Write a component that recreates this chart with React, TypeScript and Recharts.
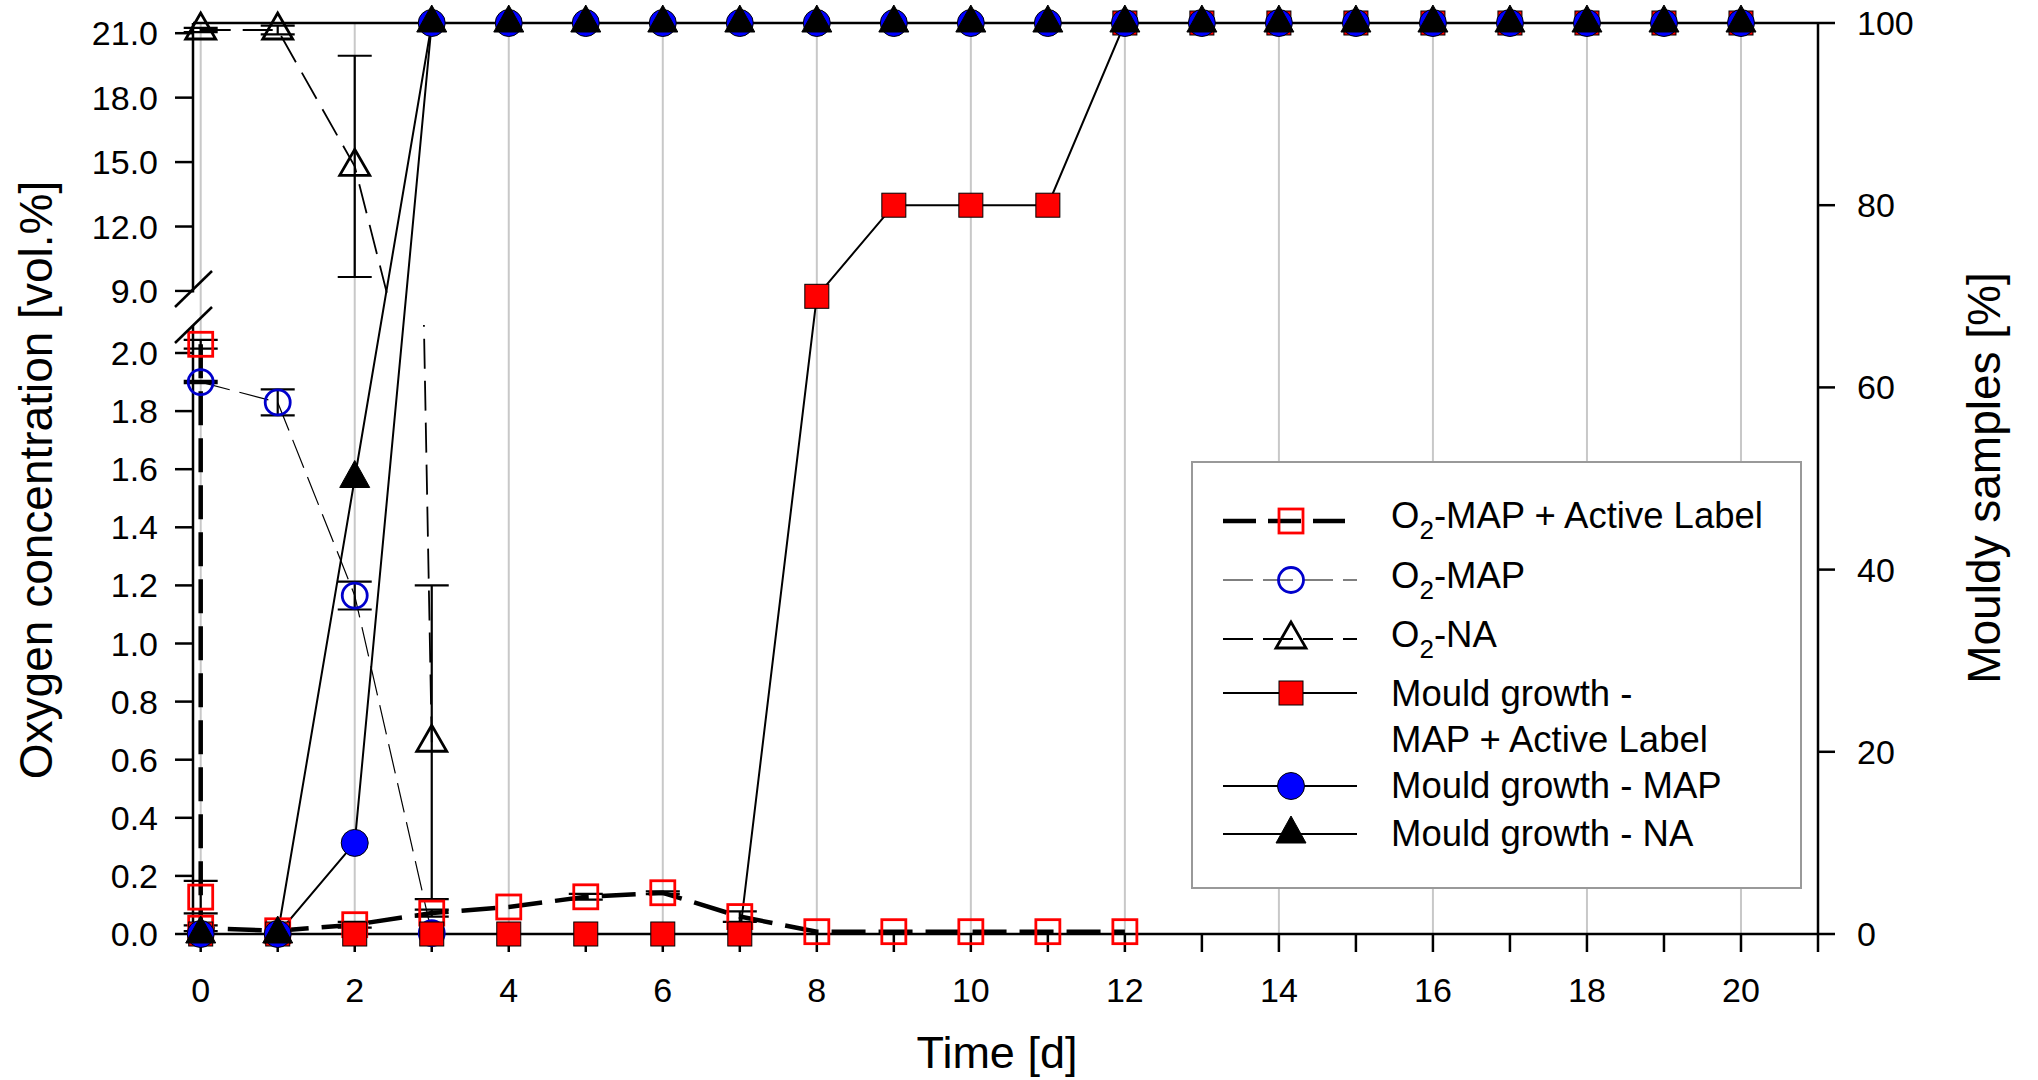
import React from 'react';
import { ComposedChart, Line, Scatter, XAxis, YAxis, ReferenceLine, ErrorBar } from 'recharts';

const FONT = "'Liberation Sans', Arial, Helvetica, sans-serif";
const W = 2038;
const H = 1080;

// time axis [d]
const xTicks = [0, 1, 2, 3, 4, 5, 6, 7, 8, 9, 10, 11, 12, 13, 14, 15, 16, 17, 18, 19, 20, 21];
const gridDays = [0, 2, 4, 6, 8, 10, 12, 14, 16, 18, 20];

// mould growth, % of samples (right axis), days 0..20
const mouldDays = [0, 1, 2, 3, 4, 5, 6, 7, 8, 9, 10, 11, 12, 13, 14, 15, 16, 17, 18, 19, 20];
const mouldMapAl = [0, 0, 0, 0, 0, 0, 0, 0, 70, 80, 80, 80, 100, 100, 100, 100, 100, 100, 100, 100, 100];
const mouldMap = [0, 0, 10, 100, 100, 100, 100, 100, 100, 100, 100, 100, 100, 100, 100, 100, 100, 100, 100, 100, 100];
const mouldNa = [0, 0, 50, 100, 100, 100, 100, 100, 100, 100, 100, 100, 100, 100, 100, 100, 100, 100, 100, 100, 100];

// oxygen concentration [vol.%] (left, broken axis) — day 0 was measured three times for MAP + label
const o2MapAlDays = [0, 0, 0, 1, 2, 3, 4, 5, 6, 7, 8, 9, 10, 11, 12];
const o2MapAl = [2.03, 0.127, 0.02, 0.011, 0.032, 0.072, 0.093, 0.128, 0.142, 0.06, 0.008, 0.008, 0.008, 0.008, 0.008];
const o2MapAlErr = [0.015, 0.056, 0.01, 0, 0.01, 0.012, 0, 0.01, 0.005, 0.018, 0, 0, 0, 0, 0];

const o2MapDays = [0, 1, 2, 3];
const o2Map = [1.9, 1.83, 1.165, 0.003];
const o2MapErr = [0.004, 0.045, 0.048, 0];

const o2NaDays = [0, 1, 2, 3];
const o2Na = [21.15, 21.15, 14.8, 0.66];
const o2NaErr = [0.1, 0.2, 5.15, 0.54];

const lowTicks = [0, 0.2, 0.4, 0.6, 0.8, 1.0, 1.2, 1.4, 1.6, 1.8, 2.0];
const highTicks = [9, 12, 15, 18, 21];
const pctTicks = [0, 20, 40, 60, 80, 100];

const rows = (days: number[], vals: number[], errs?: number[]) =>
  days.map((day, i) => ({ day, v: vals[i], err: errs ? errs[i] : undefined }));

const mouldMapAlRows = rows(mouldDays, mouldMapAl);
const mouldMapRows = rows(mouldDays, mouldMap);
const mouldNaRows = rows(mouldDays, mouldNa);
const o2MapAlRows = rows(o2MapAlDays, o2MapAl, o2MapAlErr);
const o2MapRows = rows(o2MapDays, o2Map, o2MapErr);
const o2NaRows = rows(o2NaDays, o2Na, o2NaErr);

// plot box shared by every layer
const PLOT_LEFT = 193;
const PLOT_TOP = 23;
const PLOT_BOTTOM = 934;
const GAP_RIGHT = W - 1818;
const GAP_BOTTOM = H - PLOT_BOTTOM;
const X_DOMAIN: [number, number] = [-0.1, 21];

// broken left axis: lower part 0..2.1, upper part 9..21.5
const LOW_MAX = 22;
const LOW_PX = 290.5; // px per vol.%
const LOW_PLOT_H = LOW_MAX * LOW_PX;
const LOW_CUT = 325; // lower section starts here
const HIGH_DOMAIN: [number, number] = [-20.937, 21.475];
const HIGH_CUT = 292.5; // upper section ends here

const AX = { stroke: '#000', strokeWidth: 2.5 };
const TICK = { fill: '#000', fontSize: 34, fontFamily: FONT };
const RED = '#ff0000';
const BLUE = '#0000ff';
const DARK_BLUE = '#0000cc';

type P = { cx: number; cy: number };
const OpenSquare = ({ cx, cy }: P) => (
  <rect x={cx - 12} y={cy - 12} width={24} height={24} fill="none" stroke={RED} strokeWidth={2.8} />
);
const OpenCircle = ({ cx, cy }: P) => (
  <circle cx={cx} cy={cy} r={12.5} fill="none" stroke={DARK_BLUE} strokeWidth={2.8} />
);
const OpenTriangle = ({ cx, cy }: P) => (
  <polygon points={`${cx},${cy - 17} ${cx - 15},${cy + 9} ${cx + 15},${cy + 9}`} fill="none" stroke="#000" strokeWidth={2.8} />
);
const FilledSquare = ({ cx, cy }: P) => (
  <rect x={cx - 12} y={cy - 12} width={24} height={24} fill={RED} stroke="#000" strokeWidth={1} />
);
const FilledCircle = ({ cx, cy }: P) => (
  <circle cx={cx} cy={cy} r={13.5} fill={BLUE} stroke="#000" strokeWidth={1} />
);
const FilledTriangle = ({ cx, cy }: P) => (
  <polygon points={`${cx},${cy - 18} ${cx - 15},${cy + 9} ${cx + 15},${cy + 9}`} fill="#000" stroke="#000" strokeWidth={1} />
);

const dotOf = (Shape: (p: P) => React.ReactElement) => (p: any) =>
  p.cx == null || p.cy == null ? <g key={p.index} /> : <Shape key={p.index} cx={p.cx} cy={p.cy} />;

const fmt1 = (v: number) => v.toFixed(1);

function ErrBars() {
  return <ErrorBar dataKey="err" width={17} stroke="#000" strokeWidth={2.2} direction="y" isAnimationActive={false} />;
}

function O2Lines({ withMap }: { withMap: boolean }) {
  return (
    <>
      <Line data={o2NaRows} dataKey="v" type="linear" stroke="#000" strokeWidth={1.8} strokeDasharray="30 12"
        dot={dotOf(OpenTriangle)} activeDot={false} isAnimationActive={false}>
        {ErrBars()}
      </Line>
      {withMap && (
        <Line data={o2MapRows} dataKey="v" type="linear" stroke="#000" strokeWidth={1.2} strokeDasharray="30 10"
          dot={dotOf(OpenCircle)} activeDot={false} isAnimationActive={false}>
          {ErrBars()}
        </Line>
      )}
      {withMap && (
        <Line data={o2MapAlRows} dataKey="v" type="linear" stroke="#000" strokeWidth={4.5} strokeDasharray="34 13"
          dot={dotOf(OpenSquare)} activeDot={false} isAnimationActive={false}>
          {ErrBars()}
        </Line>
      )}
    </>
  );
}

function Legend() {
  const x0 = 1223;
  const x1 = 1357;
  const mx = 1291;
  const tx = 1391;
  return (
    <g fontFamily={FONT} fontSize={36.5} fill="#000">
      <rect x={1192} y={462} width={609} height={426} fill="#fff" stroke="#999" strokeWidth={2} />
      <line x1={x0} x2={1345} y1={521} y2={521} stroke="#000" strokeWidth={4.5} strokeDasharray="33 12" />
      <OpenSquare cx={mx} cy={521} />
      <text x={tx} y={528}>O<tspan fontSize={26} dy={11}>2</tspan><tspan dy={-11}>-MAP + Active Label</tspan></text>

      <line x1={x0} x2={x1} y1={580} y2={580} stroke="#000" strokeWidth={1.2} strokeDasharray="30 10" />
      <OpenCircle cx={mx} cy={580} />
      <text x={tx} y={588}>O<tspan fontSize={26} dy={11}>2</tspan><tspan dy={-11}>-MAP</tspan></text>

      <line x1={x0} x2={x1} y1={639} y2={639} stroke="#000" strokeWidth={1.8} strokeDasharray="30 10" />
      <OpenTriangle cx={mx} cy={639} />
      <text x={tx} y={647}>O<tspan fontSize={26} dy={11}>2</tspan><tspan dy={-11}>-NA</tspan></text>

      <line x1={x0} x2={x1} y1={693} y2={693} stroke="#000" strokeWidth={2} />
      <FilledSquare cx={mx} cy={693} />
      <text x={tx} y={706}>Mould growth -</text>
      <text x={tx} y={752}>MAP + Active Label</text>

      <line x1={x0} x2={x1} y1={786} y2={786} stroke="#000" strokeWidth={2} />
      <FilledCircle cx={mx} cy={786} />
      <text x={tx} y={798}>Mould growth - MAP</text>

      <line x1={x0} x2={x1} y1={834} y2={834} stroke="#000" strokeWidth={2} />
      <FilledTriangle cx={mx} cy={834} />
      <text x={tx} y={846}>Mould growth - NA</text>
    </g>
  );
}

export default function App() {
  const layer: React.CSSProperties = { position: 'absolute', left: 0, top: 0 };
  // upper section: data cut at HIGH_CUT, but keep room for the "9.0" tick label
  const highClip = `polygon(0 0, ${W}px 0, ${W}px ${HIGH_CUT}px, 172px ${HIGH_CUT}px, 172px 322px, 0 322px)`;
  return (
    <div style={{ position: 'absolute', left: 0, top: 0, width: W, height: H, overflow: 'hidden', background: '#fff', fontFamily: FONT }}>
      {/* bottom layer: grid, time axis, right axis and the mould growth lines */}
      <div style={layer}>
        <ComposedChart width={W} height={H} margin={{ top: PLOT_TOP, right: 0, bottom: 0, left: PLOT_LEFT }}>
          <XAxis type="number" dataKey="day" domain={X_DOMAIN} ticks={xTicks} interval={0}
            tickFormatter={(v: number) => (v % 2 === 0 ? String(v) : '')}
            height={GAP_BOTTOM} tickSize={18} tickMargin={26} axisLine={AX} tickLine={AX} tick={TICK} />
          <YAxis orientation="right" type="number" domain={[0, 100]} ticks={pctTicks} interval={0}
            width={GAP_RIGHT} tickSize={17} tickMargin={22} axisLine={AX} tickLine={AX} tick={TICK} />
          {gridDays.map((d) => (
            <ReferenceLine key={d} x={d} stroke="#c8c8c8" strokeWidth={2} />
          ))}
          <ReferenceLine y={100} stroke="#000" strokeWidth={2.5} />
          <Line data={mouldMapAlRows} dataKey="v" type="linear" stroke="#000" strokeWidth={2} dot={false} activeDot={false} isAnimationActive={false} />
          <Line data={mouldMapRows} dataKey="v" type="linear" stroke="#000" strokeWidth={2} dot={false} activeDot={false} isAnimationActive={false} />
          <Line data={mouldNaRows} dataKey="v" type="linear" stroke="#000" strokeWidth={2} dot={false} activeDot={false} isAnimationActive={false} />
        </ComposedChart>
      </div>

      {/* upper section of the oxygen axis */}
      <div style={{ ...layer, clipPath: highClip }}>
        <ComposedChart width={W} height={H} margin={{ top: PLOT_TOP, right: GAP_RIGHT, bottom: GAP_BOTTOM, left: PLOT_LEFT - 100 }}>
          <XAxis type="number" dataKey="day" domain={X_DOMAIN} hide />
          <YAxis type="number" domain={HIGH_DOMAIN} ticks={highTicks} interval={0} tickFormatter={fmt1}
            width={100} tickSize={18} tickMargin={17} axisLine={AX} tickLine={AX} tick={TICK} />
          <O2Lines withMap={false} />
        </ComposedChart>
      </div>

      {/* lower section of the oxygen axis (tall chart, only its bottom part is shown) */}
      <div style={{ ...layer, top: PLOT_BOTTOM - LOW_PLOT_H, clipPath: `inset(${LOW_CUT - (PLOT_BOTTOM - LOW_PLOT_H)}px 0 0 0)` }}>
        <ComposedChart width={W} height={LOW_PLOT_H + GAP_BOTTOM} margin={{ top: 0, right: GAP_RIGHT, bottom: GAP_BOTTOM, left: PLOT_LEFT - 100 }}>
          <XAxis type="number" dataKey="day" domain={X_DOMAIN} hide />
          <YAxis type="number" domain={[0, LOW_MAX]} ticks={lowTicks} interval={0} tickFormatter={fmt1}
            width={100} tickSize={18} tickMargin={17} axisLine={AX} tickLine={AX} tick={TICK} />
          <O2Lines withMap={true} />
        </ComposedChart>
      </div>

      {/* mould growth markers on top */}
      <div style={layer}>
        <ComposedChart width={W} height={H} margin={{ top: PLOT_TOP, right: GAP_RIGHT, bottom: GAP_BOTTOM, left: PLOT_LEFT }}>
          <XAxis type="number" dataKey="day" domain={X_DOMAIN} hide />
          <YAxis type="number" domain={[0, 100]} hide />
          <Scatter data={mouldMapAlRows} dataKey="v" shape={(p: any) => <FilledSquare cx={p.cx} cy={p.cy} />} isAnimationActive={false} />
          <Scatter data={mouldMapRows} dataKey="v" shape={(p: any) => <FilledCircle cx={p.cx} cy={p.cy} />} isAnimationActive={false} />
          <Scatter data={mouldNaRows} dataKey="v" shape={(p: any) => <FilledTriangle cx={p.cx} cy={p.cy} />} isAnimationActive={false} />
        </ComposedChart>
      </div>

      {/* titles, axis break, legend */}
      <svg width={W} height={H} style={{ ...layer, pointerEvents: 'none' }}>
        <line x1={175} y1={307} x2={212} y2={271} stroke="#000" strokeWidth={2.5} />
        <line x1={175} y1={343} x2={212} y2={307} stroke="#000" strokeWidth={2.5} />
        <text x={52} y={480} transform="rotate(-90 52 480)" textAnchor="middle" fontFamily={FONT} fontSize={46} fill="#000">
          Oxygen concentration [vol.%]
        </text>
        <text x={2000} y={478} transform="rotate(-90 2000 478)" textAnchor="middle" fontFamily={FONT} fontSize={46} fill="#000">
          Mouldy samples [%]
        </text>
        <text x={997} y={1068} textAnchor="middle" fontFamily={FONT} fontSize={45} fill="#000">
          Time [d]
        </text>
        <Legend />
      </svg>
    </div>
  );
}
